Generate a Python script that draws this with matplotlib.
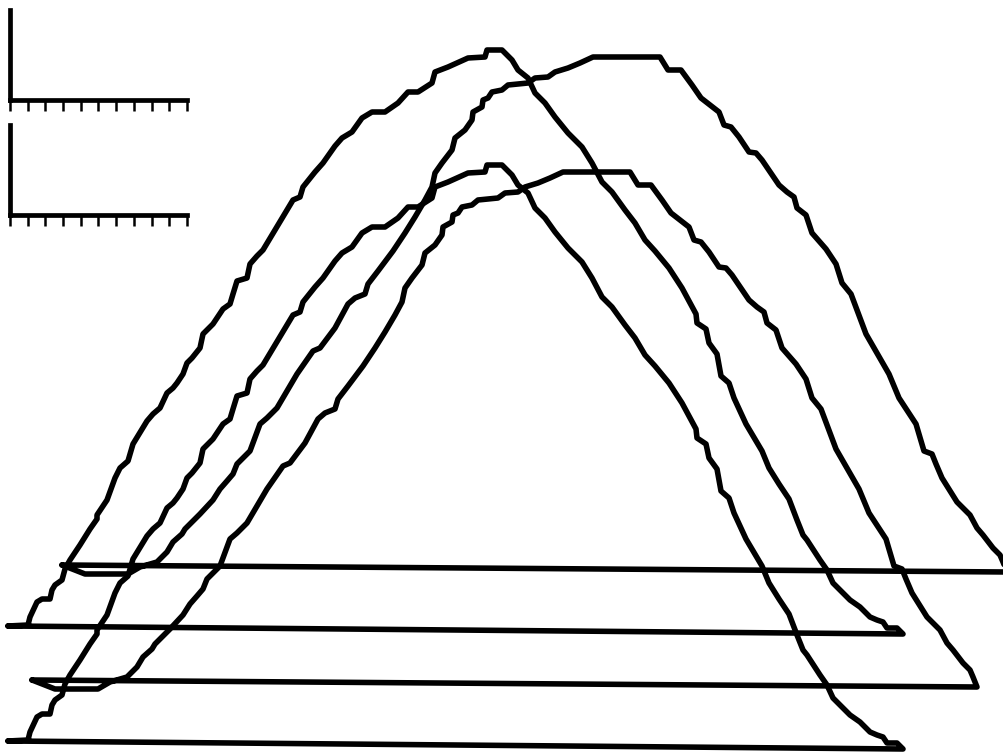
import numpy as np
import matplotlib
matplotlib.use("Agg")
import matplotlib.pyplot as plt

# ---- data: two hump outlines (closed) ----
hump1_x = [8, 28, 30, 37, 42, 50, 52, 55, 62, 65,
           70, 80, 90, 97, 97, 107, 115, 120, 128, 133,
           147, 153, 160, 167, 173, 177, 183, 187, 192, 200,
           203, 213, 223, 230, 233, 237, 247, 250, 257, 263,
           275, 287, 293, 300, 303, 315, 323, 335, 342, 352,
           362, 372, 385, 398, 408, 418, 432, 435, 448, 468,
           485, 487, 502, 512, 518, 528, 535, 545, 555, 568,
           582, 592, 602, 612, 625, 635, 645, 655, 669, 682,
           696, 697, 706, 709, 717, 721, 729, 734, 746, 762,
           769, 779, 789, 797, 803, 807, 820, 827, 833, 840,
           850, 860, 870, 877, 883, 887, 897, 903]
hump1_y = [626, 625, 617, 602, 599, 599, 590, 585, 580, 569,
           560, 545, 529, 519, 515, 500, 478, 468, 461, 444,
           421, 414, 408, 393, 388, 383, 374, 363, 358, 348,
           334, 324, 309, 304, 294, 281, 278, 264, 256, 250,
           230, 210, 200, 197, 187, 172, 163, 146, 138, 132,
           118, 112, 112, 103, 92, 92, 83, 72, 67, 58,
           57, 50, 50, 60, 70, 78, 93, 103, 117, 133,
           147, 163, 182, 192, 210, 223, 240, 251, 268, 288,
           314, 323, 329, 343, 354, 376, 383, 398, 424, 451,
           468, 484, 499, 520, 535, 540, 560, 570, 583, 590,
           600, 607, 617, 620, 622, 628, 628, 634]

hump2_x = [62, 85, 128, 140, 157, 167, 173, 182, 185, 200,
           213, 220, 227, 233, 237, 250, 260, 267, 277, 287,
           297, 313, 320, 335, 348, 355, 365, 368, 378, 393,
           405, 415, 425, 432, 435, 442, 452, 455, 465, 472,
           473, 482, 483, 488, 492, 502, 508, 528, 535, 548,
           555, 568, 580, 593, 660, 668, 681, 692, 701, 719,
           724, 731, 739, 749, 756, 762, 779, 787, 794, 797,
           806, 812, 826, 836, 842, 851, 866, 889, 899, 916,
           924, 932, 936, 942, 957, 963, 970, 977, 983, 993,
           1000, 1003, 1007]
hump2_y = [565, 574, 574, 567, 562, 552, 542, 534, 529, 514,
           500, 489, 481, 474, 464, 451, 424, 418, 408, 391,
           374, 351, 348, 328, 304, 298, 294, 284, 271, 251,
           233, 217, 200, 187, 173, 163, 150, 138, 130, 120,
           112, 107, 100, 98, 92, 90, 85, 83, 78, 77,
           72, 68, 63, 57, 57, 70, 70, 85, 98, 112,
           125, 127, 137, 152, 153, 160, 185, 192, 197, 208,
           215, 233, 249, 264, 283, 294, 334, 374, 398, 424,
           451, 454, 464, 478, 502, 508, 515, 528, 535, 548,
           555, 562, 572]

# horizontal shift of the second hump in each panel
hump2_shift = [0, -30]
n_ticks = 11

# ---- figure ----
W, H = 1004, 754
fig = plt.figure(figsize=(W / 100, H / 100), dpi=100)

panel_tops = [10, 125]
ax_w, ax_h = 177, 90
xlim = (10, 187)
ylim = (100, 10)

style = dict(color="black", lw=4.0, clip_on=False,
             solid_joinstyle="round", solid_capstyle="round")

for i, top in enumerate(panel_tops):
    ax = fig.add_axes([10 / W, (H - top - ax_h) / H, ax_w / W, ax_h / H])
    ax.set_xlim(*xlim)
    ax.set_ylim(*ylim)
    ax.patch.set_alpha(0)
    for s in ["top", "right"]:
        ax.spines[s].set_visible(False)
    for s in ["left", "bottom"]:
        ax.spines[s].set_linewidth(3.4)
    ax.set_xticks(np.linspace(xlim[0], xlim[1], n_ticks))
    ax.set_yticks([])
    ax.tick_params(axis="x", direction="out", length=8, width=1.8,
                   labelbottom=False)

    x1 = hump1_x + [hump1_x[0]]
    y1 = hump1_y + [hump1_y[0]]
    ax.plot(x1, y1, **style)

    x2 = [v + hump2_shift[i] for v in hump2_x + [hump2_x[0]]]
    y2 = hump2_y + [hump2_y[0]]
    ax.plot(x2, y2, **style)

fig.savefig("out.png", dpi=100)
